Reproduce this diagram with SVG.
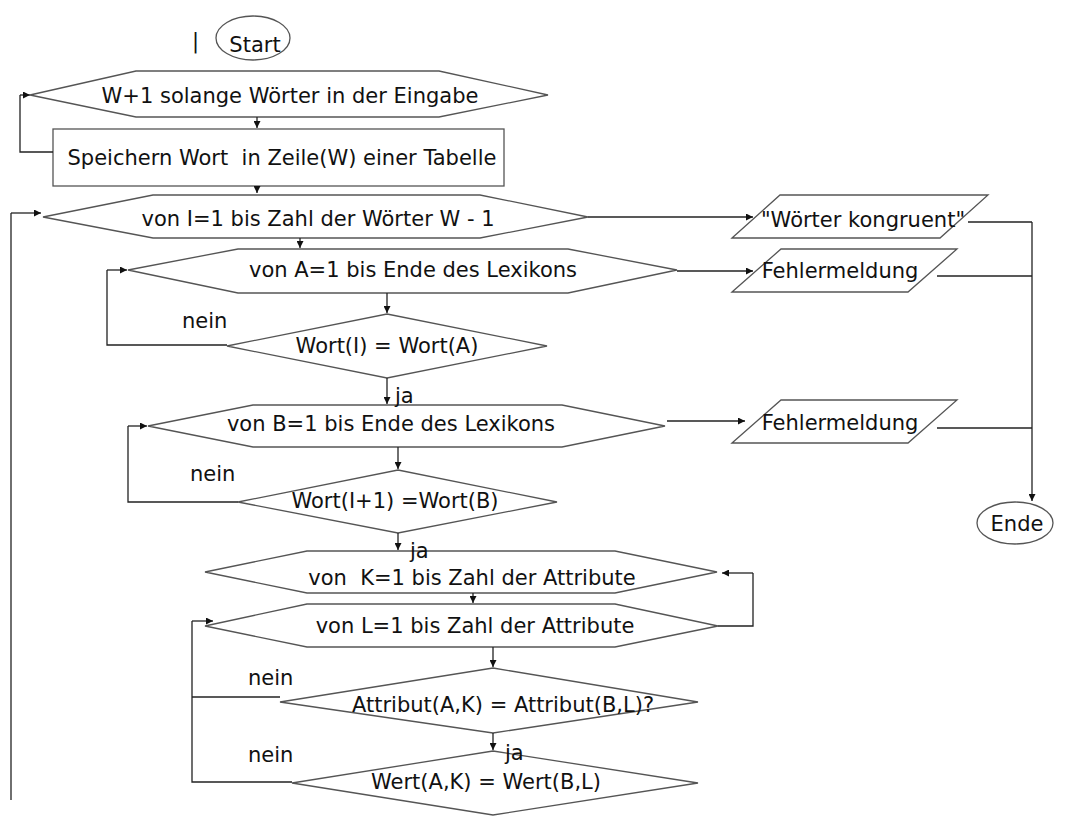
<svg xmlns="http://www.w3.org/2000/svg" width="1075" height="816" viewBox="0 0 1075 816">
<defs>
<marker id="arr" viewBox="0 0 10 10" refX="10" refY="5" markerWidth="9" markerHeight="7" markerUnits="userSpaceOnUse" orient="auto">
<path d="M0,0 L10,5 L0,10 z" fill="#111"/>
</marker>
<style>
.sh{fill:#fff;stroke:#555;stroke-width:1.3}
.t{font-family:"DejaVu Sans","Verdana",sans-serif;font-size:21px;fill:#111;white-space:pre}
.m{text-anchor:middle}
.c{fill:none;stroke:#222;stroke-width:1.3}
.ca{fill:none;stroke:#222;stroke-width:1.3;marker-end:url(#arr)}
</style>
</defs>
<rect width="1075" height="816" fill="#fff"/>

<g id="cursor"><text class="t" x="192" y="48">|</text></g>

<g id="start">
<ellipse class="sh" cx="253" cy="38" rx="37" ry="22"/>
<text class="t m" x="255" y="52">Start</text>
</g>

<g id="loopW">
<polygon class="sh" points="30,95 136,71 439,71 548,95 439,117 136,117"/>
<text class="t m" x="290" y="103">W+1 solange Wörter in der Eingabe</text>
</g>

<g id="store">
<rect class="sh" x="53" y="129" width="451" height="57"/>
<text class="t m" x="282" y="165">Speichern Wort  in Zeile(W) einer Tabelle</text>
</g>

<g id="loopI">
<polygon class="sh" points="43,217 153,195 480,195 588,217 480,238 153,238"/>
<text class="t m" x="318" y="226">von I=1 bis Zahl der Wörter W - 1</text>
</g>

<g id="loopA">
<polygon class="sh" points="128,270 238,249 568,249 677,270 568,293 238,293"/>
<text class="t m" x="413" y="277">von A=1 bis Ende des Lexikons</text>
</g>

<g id="checkA">
<polygon class="sh" points="387,314 547,346 387,378 227,346"/>
<text class="t m" x="387" y="353">Wort(I) = Wort(A)</text>
</g>

<g id="loopB">
<polygon class="sh" points="148,426 253,405 562,405 665,426 562,447 253,447"/>
<text class="t m" x="391" y="431">von B=1 bis Ende des Lexikons</text>
</g>

<g id="checkB">
<polygon class="sh" points="398,470 557,502 398,533 238,502"/>
<text class="t m" x="395" y="508">Wort(I+1) =Wort(B)</text>
</g>

<g id="loopK">
<polygon class="sh" points="205,572 307,551 615,551 717,572 615,593 307,593"/>
<text class="t m" x="472" y="585">von  K=1 bis Zahl der Attribute</text>
</g>

<g id="loopL">
<polygon class="sh" points="205,626 307,604 615,604 718,626 615,647 307,647"/>
<text class="t m" x="475" y="633">von L=1 bis Zahl der Attribute</text>
</g>

<g id="checkAttr">
<polygon class="sh" points="493,668 698,702 493,733 280,702"/>
<text class="t m" x="503" y="712">Attribut(A,K) = Attribut(B,L)?</text>
</g>

<g id="checkWert">
<polygon class="sh" points="493,751 698,783 493,815 292,783"/>
<text class="t m" x="486" y="789">Wert(A,K) = Wert(B,L)</text>
</g>

<g id="outKongruent">
<polygon class="sh" points="732,238 780,195 988,195 940,238"/>
<text class="t m" x="863" y="227">"Wörter kongruent"</text>
</g>

<g id="outFehler1">
<polygon class="sh" points="732,292 781,249 957,249 908,292"/>
<text class="t m" x="840" y="278">Fehlermeldung</text>
</g>

<g id="outFehler2">
<polygon class="sh" points="732,443 781,400 957,400 908,443"/>
<text class="t m" x="840" y="430">Fehlermeldung</text>
</g>

<g id="ende">
<ellipse class="sh" cx="1015" cy="523" rx="38" ry="21"/>
<text class="t m" x="1017" y="531">Ende</text>
</g>

<g id="connectors">
<path class="ca" d="M257,117 V128"/>
<path class="c" d="M53,152 H20 V95"/>
<path class="ca" d="M20,95 H30"/>
<path class="ca" d="M257,186 V193"/>
<path class="c" d="M11,800 V213"/>
<path class="ca" d="M11,213 H41"/>
<path class="ca" d="M588,217 H753"/>
<path class="ca" d="M300,238 V248"/>
<path class="ca" d="M677,271 H753"/>
<path class="ca" d="M387,293 V313"/>
<path class="c" d="M227,345 H107 V270"/>
<path class="ca" d="M107,270 H127"/>
<path class="ca" d="M387,378 V404"/>
<path class="ca" d="M667,421 H745"/>
<path class="ca" d="M398,447 V469"/>
<path class="c" d="M238,502 H128 V426"/>
<path class="ca" d="M128,426 H147"/>
<path class="ca" d="M398,533 V550"/>
<path class="ca" d="M473,593 V603"/>
<path class="c" d="M718,626 H753 V573"/>
<path class="ca" d="M753,573 H722"/>
<path class="ca" d="M493,647 V667"/>
<path class="c" d="M280,697 H192"/>
<path class="c" d="M292,782 H192 V621"/>
<path class="ca" d="M192,621 H213"/>
<path class="ca" d="M493,733 V750"/>
<path class="c" d="M968,222 H1032"/>
<path class="ca" d="M1032,222 V501"/>
<path class="c" d="M937,276 H1032"/>
<path class="c" d="M937,428 H1032"/>
<text class="t" x="182" y="328">nein</text>
<text class="t" x="395" y="403">ja</text>
<text class="t" x="190" y="481">nein</text>
<text class="t" x="410" y="558">ja</text>
<text class="t" x="248" y="685">nein</text>
<text class="t" x="248" y="762">nein</text>
<text class="t" x="505" y="760">ja</text>
</g>
</svg>
